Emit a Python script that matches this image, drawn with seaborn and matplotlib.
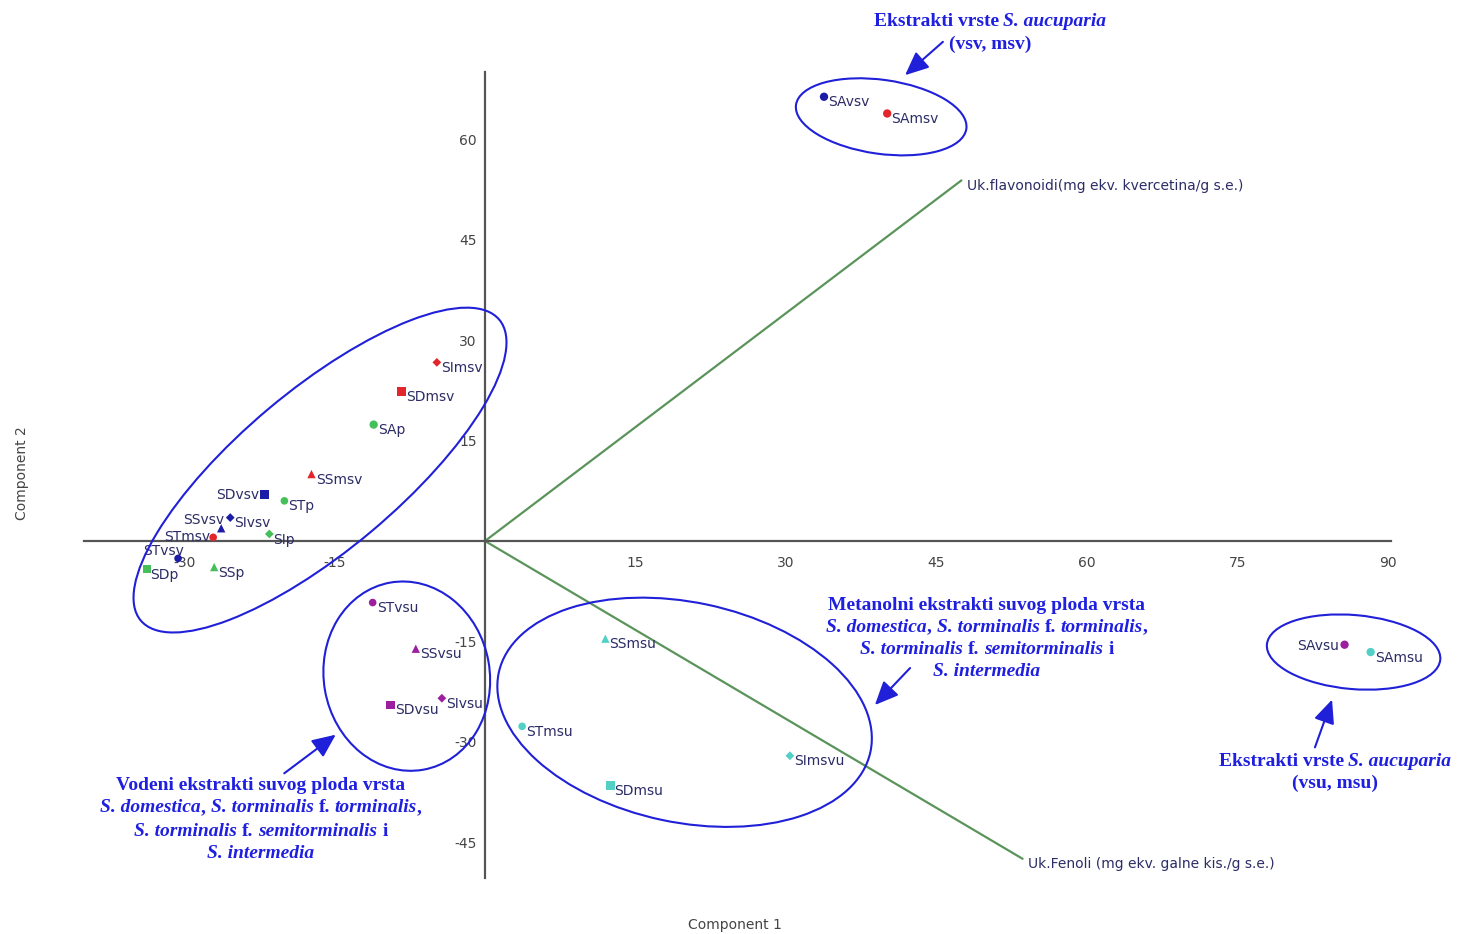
import numpy as np
import pandas as pd
import matplotlib
matplotlib.use("Agg")
import matplotlib.pyplot as plt
import seaborn as sns
from matplotlib.patches import Ellipse, FancyArrowPatch
from matplotlib.transforms import IdentityTransform

# PCA scores (Component 1, Component 2) of the Sorbus extracts
samples = ["SImsv", "SDmsv", "SAp", "SSmsv", "SDvsv", "STp", "SIvsv", "SSvsv",
           "STmsv", "SIp", "STvsv", "SDp", "SSp",
           "STvsu", "SSvsu", "SDvsu", "SIvsu",
           "SSmsu", "STmsu", "SDmsu", "SImsvu",
           "SAvsv", "SAmsv", "SAvsu", "SAmsu"]
comp1 = [-4.8, -8.3, -11.1, -17.3, -22.0, -20.0, -25.4, -26.3,
         -27.1, -21.5, -30.6, -33.7, -27.0,
         -11.2, -6.9, -9.4, -4.3,
         12.0, 3.7, 12.5, 30.4,
         33.8, 40.1, 85.7, 88.3]
comp2 = [26.7, 22.4, 17.4, 10.0, 6.9, 6.0, 3.5, 1.9,
         0.55, 1.05, -2.6, -4.2, -3.9,
         -9.2, -16.1, -24.5, -23.5,
         -14.6, -27.7, -36.5, -32.1,
         66.4, 63.9, -15.5, -16.6]
extract = ["msv", "msv", "p", "msv", "vsv", "p", "vsv", "vsv",
           "msv", "p", "vsv", "p", "p",
           "vsu", "vsu", "vsu", "vsu",
           "msu", "msu", "msu", "msu",
           "vsv", "msv", "vsu", "msu"]

# loading vectors (biplot)
vec_names = ["Uk.flavonoidi(mg ekv. kvercetina/g s.e.)",
             "Uk.Fenoli (mg ekv. galne kis./g s.e.)"]
vec_x = [47.5, 53.6]
vec_y = [53.9, -47.5]

x_ticks = [-30, -15, 15, 30, 45, 60, 75, 90]
y_ticks = [-45, -30, -15, 15, 30, 45, 60]

df = pd.DataFrame({"sample": samples, "Component 1": comp1,
                   "Component 2": comp2, "extract": extract})
df["species"] = df["sample"].str[:2]

palette = {"msv": "#e3262b", "vsv": "#1c1ca6", "p": "#45bf5a",
           "vsu": "#9c1f9f", "msu": "#52d0c6"}
markers = {"SD": "s", "SS": "^", "SI": "D", "SA": "o", "ST": "o"}
marker_sizes = {"SD": 40, "SS": 36, "SI": 20, "SA": 36, "ST": 30}

W, H = 1457, 934
sns.set_theme(style="white")
plt.rcParams["font.family"] = ["DejaVu Sans"]
fig = plt.figure(figsize=(W / 100, H / 100), dpi=100)

xlim = (-40.0, 90.3)
ylim = (-50.4, 70.1)
left_px, right_px = 83.8, 1390.7
top_px, bot_px = 72.0, 878.2
ax = fig.add_axes([left_px / W, (H - bot_px) / H,
                   (right_px - left_px) / W, (bot_px - top_px) / H])
ax.set_xlim(*xlim)
ax.set_ylim(*ylim)

sns.scatterplot(data=df, x="Component 1", y="Component 2", hue="extract",
                style="species", size="species", sizes=marker_sizes,
                palette=palette, markers=markers,
                edgecolor="none", legend=False, ax=ax, zorder=4)

# biplot vectors
for name, vx, vy in zip(vec_names, vec_x, vec_y):
    ax.plot([0, vx], [0, vy], color="#5b945b", lw=1.6, zorder=2)
    ax.annotate(name, (vx, vy), xytext=(4, -4), textcoords="offset points",
                ha="left", va="center", fontsize=10, color="#2c2c66")

# sample labels (most to the right of the point, some to the left)
label_offsets = {
    "SDvsv": (-4, 0, "right"), "SSvsv": (2, 6, "right"),
    "STmsv": (-2, 0, "right"), "STvsv": (4, 5, "right"),
    "SAvsu": (-4, -1, "right"), "SDp": (2, -4, "left"),
}
for name, x, y in zip(samples, comp1, comp2):
    dx, dy, ha = label_offsets.get(name, (3, -4, "left"))
    ax.annotate(name, (x, y), xytext=(dx, dy), textcoords="offset points",
                ha=ha, va="center", fontsize=10, color="#2c2c66", zorder=5)

# axes through the origin
for side in ["top", "right"]:
    ax.spines[side].set_visible(False)
for side in ["left", "bottom"]:
    ax.spines[side].set_position(("data", 0))
    ax.spines[side].set_color("#555555")
    ax.spines[side].set_linewidth(1.6)
ax.set_xticks(x_ticks)
ax.set_yticks(y_ticks)
ax.set_xticklabels([str(t) for t in x_ticks])
ax.set_yticklabels([str(t) for t in y_ticks])
ax.tick_params(axis="x", direction="in", length=5, width=1.2, color="#555555",
               pad=11, labelsize=10, labelcolor="#444444")
ax.tick_params(axis="y", direction="out", length=5, width=1.2, color="#555555",
               pad=1, labelsize=10, labelcolor="#444444")
ax.set_xlabel("")
ax.set_ylabel("")
ax.grid(False)
ax.set_facecolor("white")

fig.text(735 / W, 1 - 925 / H, "Component 1", ha="center", va="center",
         fontsize=10, color="#444444")
fig.text(22 / W, 1 - 473 / H, "Component 2", ha="center", va="center",
         rotation=90, fontsize=10, color="#444444")

# group outlines (centre in data units, size in pixels)
blue = "#2020d8"
groups = [
    ((-16.45, 10.6), 468, 160, 40),
    ((-7.8, -20.2), 190, 166, 100),
    ((19.9, -25.6), 380, 220, -12),
    ((39.5, 63.4), 172, 74, -8),
    ((86.6, -16.6), 174, 74, -5),
]
fig.canvas.draw()
for (cx, cy), w, h, ang in groups:
    px, py = ax.transData.transform((cx, cy))
    e = Ellipse((px, py), w, h, angle=ang, transform=IdentityTransform(),
                fill=False, edgecolor=blue, lw=1.5, zorder=6)
    fig.add_artist(e)

# arrows pointing at the groups (pixel coordinates, image origin top-left)
arrows = [((945, 40), (903, 77)),
          ((282, 775), (338, 733)),
          ((912, 666), (873, 707)),
          ((1314, 750), (1333, 697))]
for (x0, y0), (x1, y1) in arrows:
    a = FancyArrowPatch((x0, H - y0), (x1, H - y1), transform=IdentityTransform(),
                        arrowstyle="-|>,head_length=0.9,head_width=0.4",
                        mutation_scale=16, color=blue, lw=1.5)
    fig.add_artist(a)

# rich (bold / bold italic) group captions
renderer = fig.canvas.get_renderer()
cap_size = 14
cap_color = "#1f1fe0"
space_px = cap_size * 100 / 72 * 0.25


def rich_line(cx, cy, markup):
    runs = markup.split("*")
    pieces = []
    for i, run in enumerate(runs):
        if run == "":
            continue
        italic = (i % 2 == 1)
        lead = len(run) - len(run.lstrip(" "))
        trail = len(run) - len(run.rstrip(" "))
        core = run.strip(" ")
        t = fig.text(0, 0, core, transform=IdentityTransform(),
                     fontfamily="Liberation Serif", fontweight="bold",
                     fontstyle="italic" if italic else "normal",
                     fontsize=cap_size, color=cap_color,
                     ha="left", va="center")
        w = t.get_window_extent(renderer).width
        pieces.append((t, lead * space_px, w, trail * space_px))
    total = sum(l + w + tr for _, l, w, tr in pieces)
    x = cx - total / 2
    for t, l, w, tr in pieces:
        x += l
        t.set_position((x, H - cy))
        x += w + tr


captions = [
    (990, [21, 44], ["Ekstrakti vrste *S. aucuparia*", "(vsv, msv)"]),
    (261, [786, 808, 831, 853], ["Vodeni ekstrakti suvog ploda vrsta",
                                 "*S. domestica*, *S. torminalis* f. *torminalis*,",
                                 "*S. torminalis* f. *semitorminalis* i",
                                 "*S. intermedia*"]),
    (987, [605, 627, 650, 672], ["Metanolni ekstrakti suvog ploda vrsta",
                                 "*S. domestica*, *S. torminalis* f. *torminalis*,",
                                 "*S. torminalis* f. *semitorminalis* i",
                                 "*S. intermedia*"]),
    (1335, [761, 783], ["Ekstrakti vrste *S. aucuparia*", "(vsu, msu)"]),
]
for cx, ys, lines in captions:
    for cy, line in zip(ys, lines):
        rich_line(cx, cy, line)

fig.savefig("out.png", dpi=100, facecolor="white")
